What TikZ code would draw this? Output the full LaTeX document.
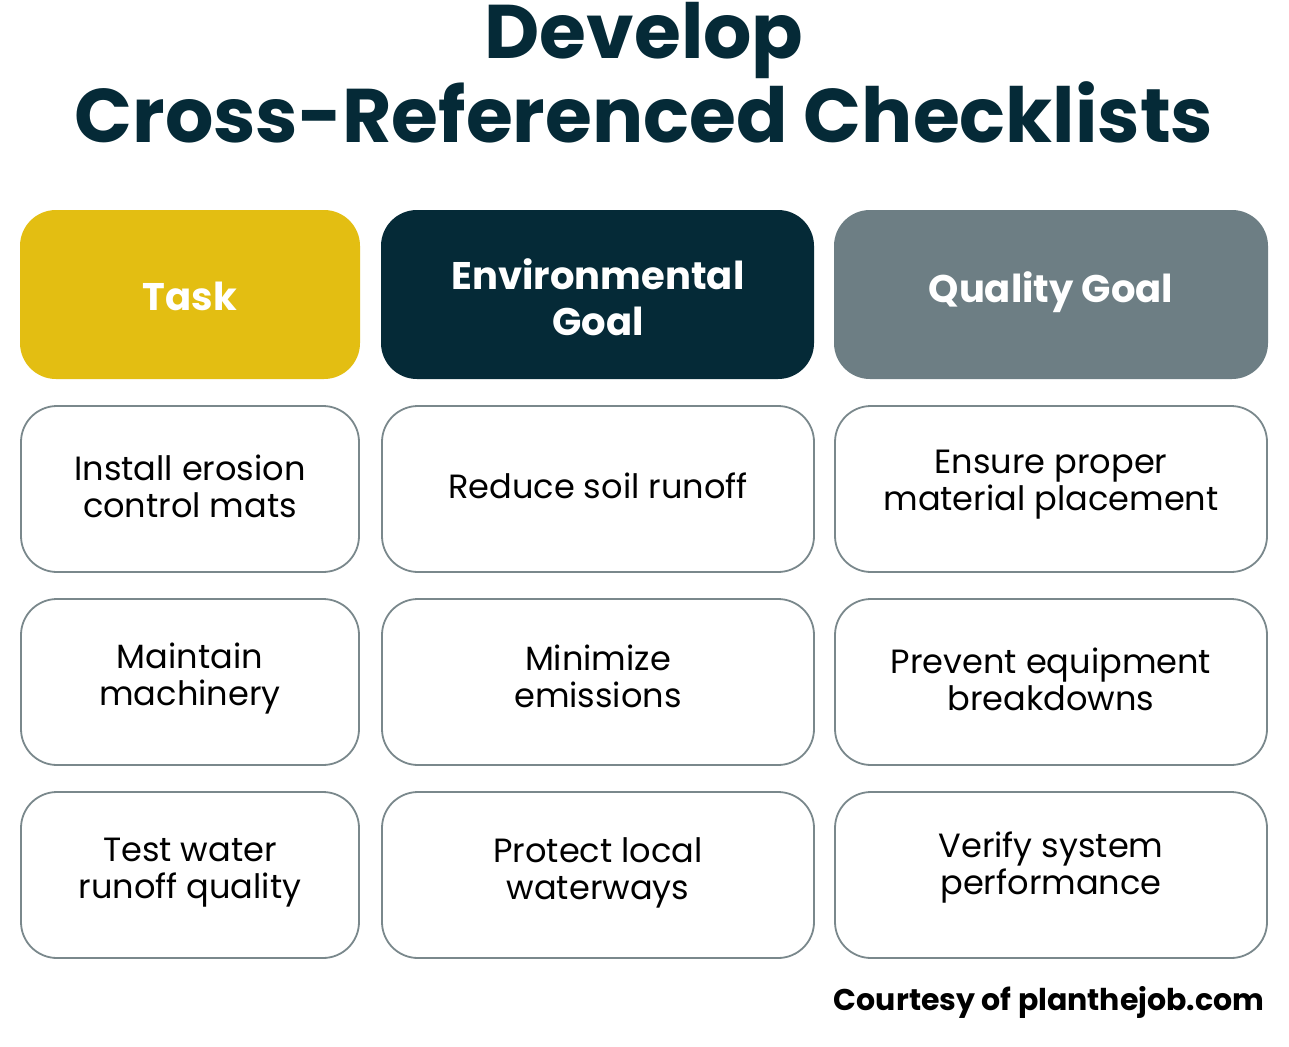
\documentclass[tikz,border=0pt]{standalone}
\usepackage{fontspec}
\setmainfont{Poppins}
\definecolor{ttl}{HTML}{052A37}
\definecolor{ylw}{HTML}{E3BE12}
\definecolor{gry}{HTML}{6D7E84}
\definecolor{brd}{HTML}{7A888C}
\begin{document}
\begin{tikzpicture}[x=1pt,y=-1pt,
  hdr/.style={rounded corners=36pt,text=white,font=\fontsize{38.5}{46}\selectfont\bfseries,align=center},
  cell/.style={draw=brd,line width=1.8pt,rounded corners=36pt,fill=white},
  ctext/.style={font=\fontsize{33.6}{37}\selectfont,text=black,align=center}]
\useasboundingbox[fill=white] (0,0) rectangle (1289,1046);
\node[font=\fontsize{76}{84}\selectfont\bfseries,text=ttl,align=center] (title) at (644,73) {Develop\\Cross-Referenced Checklists};
% headers
\fill[ylw,rounded corners=36pt] (20,210) rectangle (360,379);
\node[hdr] (h1) at (190,296) {Task};
\fill[ttl,rounded corners=36pt] (381,210) rectangle (814,379);
\node[hdr] (h2) at (598,297) {Environmental\\Goal};
\fill[gry,rounded corners=36pt] (834,210) rectangle (1268,379);
\node[hdr] (h3) at (1051,292) {Quality Goal};
% cells
\foreach \t/\b in {406/572,599/765,792/958}{
  \draw[cell] (21,\t) rectangle (359,\b);
  \draw[cell] (382,\t) rectangle (814,\b);
  \draw[cell] (835,\t) rectangle (1267,\b);
}
\node[ctext] (a1) at (190,486) {Install erosion\\control mats};
\node[ctext] (b1) at (598,486) {Reduce soil runoff};
\node[ctext] (c1) at (1051,485) {Ensure proper\\material placement};
\node[ctext] (a2) at (190,679) {Maintain\\machinery};
\node[ctext] (b2) at (598,676) {Minimize\\emissions};
\node[ctext] (c2) at (1051,679) {Prevent equipment\\breakdowns};
\node[ctext] (a3) at (190,873) {Test water\\runoff quality};
\node[ctext] (b3) at (598,873) {Protect local\\waterways};
\node[ctext] (c3) at (1051,868) {Verify system\\performance};
\node[anchor=east,font=\fontsize{30}{34}\selectfont\bfseries,text=black] (court) at (1268,1002) {Courtesy of planthejob.com};
\end{tikzpicture}
\end{document}
